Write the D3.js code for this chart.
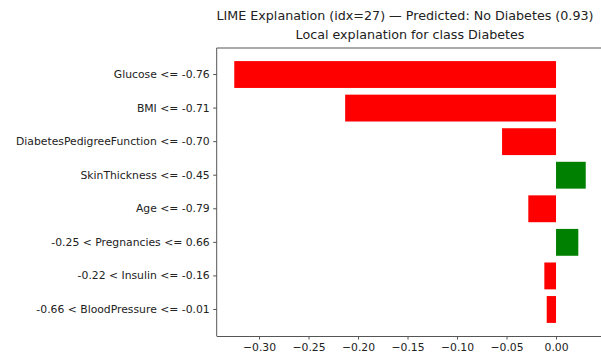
<!DOCTYPE html>
<html>
<head>
<meta charset="utf-8">
<script src="https://cdn.jsdelivr.net/npm/d3@7"></script>
<style>
  html, body { margin: 0; padding: 0; background: #fff; }
  svg { display: block; font-family: "DejaVu Sans", sans-serif; }
</style>
</head>
<body>
<svg id="chart" width="601" height="354"></svg>
<script>
// Feature conditions, top to bottom, and their LIME weights
const features = [
  "Glucose <= -0.76",
  "BMI <= -0.71",
  "DiabetesPedigreeFunction <= -0.70",
  "SkinThickness <= -0.45",
  "Age <= -0.79",
  "-0.25 < Pregnancies <= 0.66",
  "-0.22 < Insulin <= -0.16",
  "-0.66 < BloodPressure <= -0.01"
];
const weights = [-0.325, -0.213, -0.0545, 0.030, -0.028, 0.0225, -0.0118, -0.0094];
const xTicks = [-0.30, -0.25, -0.20, -0.15, -0.10, -0.05, 0.00];
const titleLines = [
  "LIME Explanation (idx=27) \u2014 Predicted: No Diabetes (0.93)",
  "Local explanation for class Diabetes"
];

const svg = d3.select("#chart");
const plot = { left: 216.7, right: 603.3, top: 48, bottom: 336 };
const tickFont = 10.8, titleFont = 12.7;

// 5% padding on each side of the data range, as in a default matplotlib axis
const lo = d3.min(weights.concat(0)), hi = d3.max(weights.concat(0));
const pad = (hi - lo) * 0.05;
const x = d3.scaleLinear().domain([lo - pad, hi + pad]).range([plot.left, plot.right]);

const y = d3.scaleBand()
  .domain(features)
  .range([plot.top, plot.bottom])
  .paddingInner(0.2)
  .paddingOuter(0.39);

// Bars
svg.append("g")
  .selectAll("rect")
  .data(features.map((f, i) => ({ f, w: weights[i] })))
  .join("rect")
  .attr("x", d => x(Math.min(0, d.w)))
  .attr("width", d => Math.abs(x(d.w) - x(0)))
  .attr("y", d => y(d.f))
  .attr("height", y.bandwidth())
  .attr("fill", d => d.w < 0 ? "#ff0000" : "#008000");

// Frame (left, top, bottom spines)
const spine = "#555";
svg.append("line").attr("x1", plot.left).attr("x2", plot.right)
  .attr("y1", plot.top).attr("y2", plot.top).attr("stroke", spine);
svg.append("line").attr("x1", plot.left).attr("x2", plot.left)
  .attr("y1", plot.top).attr("y2", plot.bottom).attr("stroke", spine);

// X axis
const xAxis = svg.append("g")
  .attr("transform", `translate(0,${plot.bottom})`)
  .call(d3.axisBottom(x).tickValues(xTicks).tickFormat(d3.format(".2f")).tickSize(3.5).tickPadding(3.5));
xAxis.select(".domain").attr("stroke", spine).attr("d", `M${plot.left},0.5H${plot.right}`);
xAxis.selectAll(".tick line").attr("stroke", spine);
xAxis.selectAll(".tick text").attr("fill", "#222").attr("font-size", tickFont)
  .attr("font-family", "DejaVu Sans");

// Y axis
const yAxis = svg.append("g")
  .attr("transform", `translate(${plot.left},0)`)
  .call(d3.axisLeft(y).tickSize(3.5).tickPadding(3.5));
yAxis.select(".domain").remove();
yAxis.selectAll(".tick line").attr("stroke", spine);
yAxis.selectAll(".tick text").attr("fill", "#222").attr("font-size", tickFont)
  .attr("font-family", "DejaVu Sans");

// Titles
svg.append("text")
  .attr("x", 405).attr("y", 20)
  .attr("text-anchor", "middle").attr("font-size", titleFont).attr("fill", "#222")
  .text(titleLines[0]);
svg.append("text")
  .attr("x", (plot.left + plot.right) / 2).attr("y", 38.5)
  .attr("text-anchor", "middle").attr("font-size", titleFont).attr("fill", "#222")
  .text(titleLines[1]);
</script>
</body>
</html>
